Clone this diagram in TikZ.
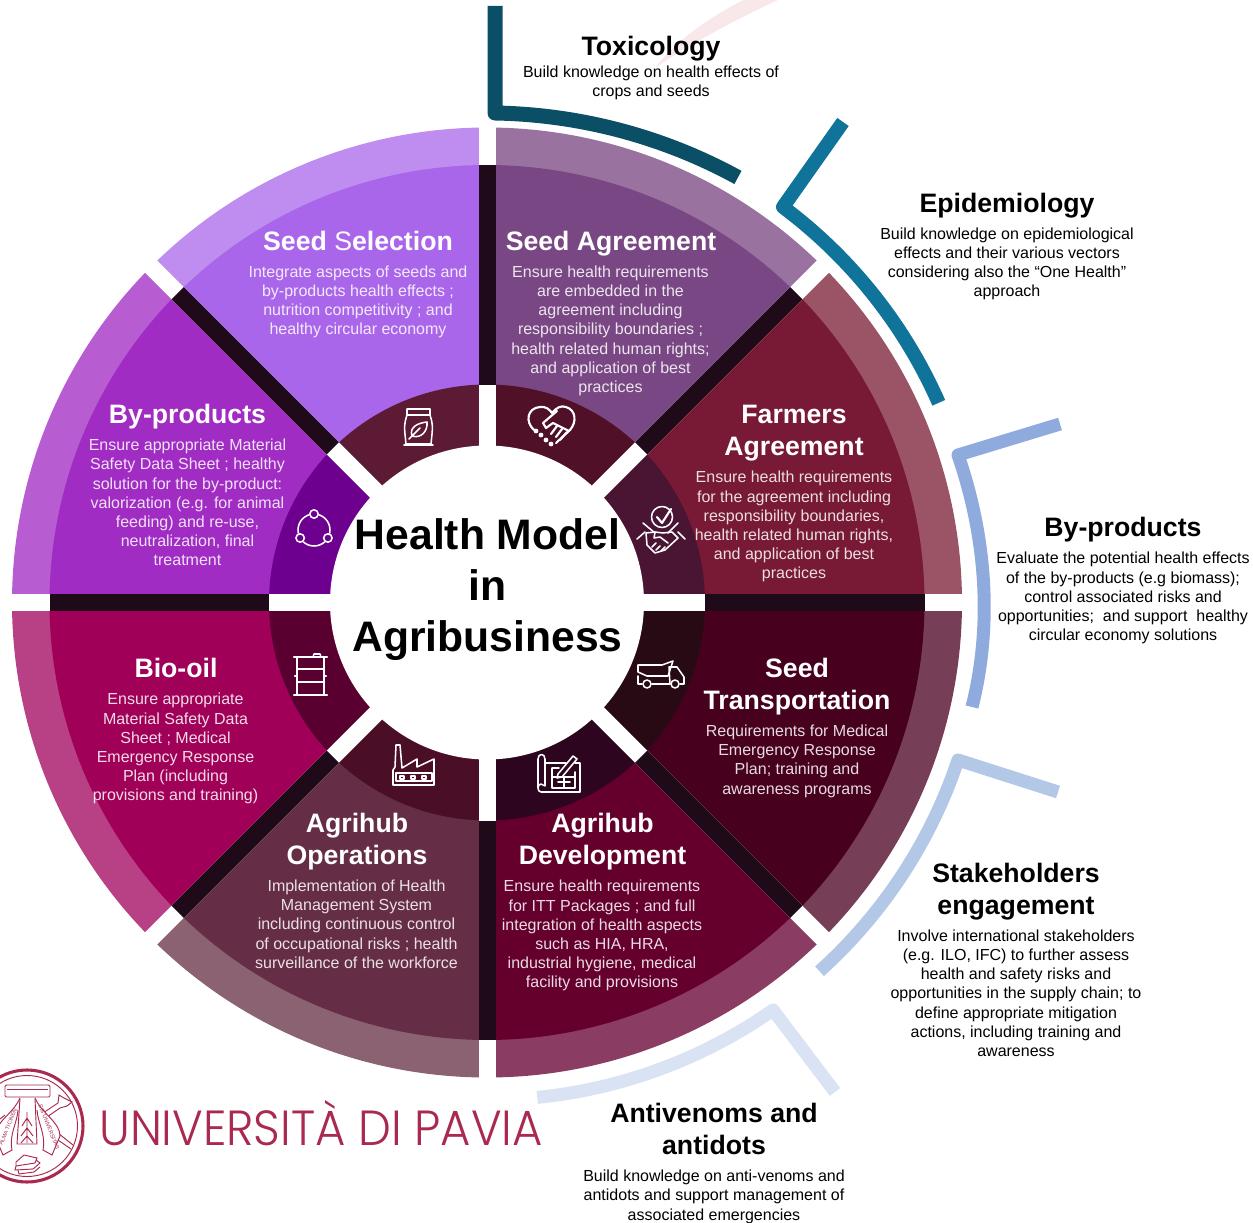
\documentclass[tikz,border=0pt]{standalone}
\usepackage{fontspec}
\setmainfont{Liberation Sans}
\newfontfamily\logofont{Poppins}[UprightFont=* Light]
\definecolor{gapdark}{HTML}{1E0A18}
\definecolor{crim}{HTML}{A9294F}
\newcommand\sect[4]{\fill[#4] (487,602.5) -- ++(#1:#3) arc[start angle=#1,end angle=#2,radius=#3] -- cycle;}
\newcommand\blk[1]{\strut #1\strut}
\tikzset{
  head/.style={inner sep=0pt,align=center,font=\fontsize{20}{24}\selectfont\bfseries,shift={(0,-3)}},
  desc/.style={inner sep=0pt,align=center,font=\fontsize{12}{14.4}\selectfont,shift={(0,-2)}},
  inhead/.style={head,text=white},
  indesc/.style={desc,text=white,text opacity=.86},
  icon/.style={draw=white,line width=1.6pt,line cap=round,line join=round},
  iconthin/.style={draw=white,line width=1.15pt,line cap=round,line join=round},
  seal/.style={draw=crim,line width=.7pt},
  armband/.style={line width=#1,line join=round,line cap=butt}
}
\begin{document}
\begin{tikzpicture}[x=0.75pt,y=0.75pt,yscale=-1]
\useasboundingbox (0,0) rectangle (1253,1223);
% faint arc
\fill[color={rgb,255:red,248;green,232;blue,234}] (655,68) .. controls (675,42) and (705,20) .. (743,0) -- (778,0) .. controls (735,20) and (690,44) .. cycle;
% outer ring
\sect{-90}{-45}{475}{color={rgb,255:red,154;green,114;blue,160}}
\sect{-45}{0}{475}{color={rgb,255:red,155;green,83;blue,102}}
\sect{0}{45}{475}{color={rgb,255:red,119;green,63;blue,87}}
\sect{45}{90}{475}{color={rgb,255:red,139;green,60;blue,98}}
\sect{90}{135}{475}{color={rgb,255:red,139;green,98;blue,114}}
\sect{135}{180}{475}{color={rgb,255:red,184;green,64;blue,133}}
\sect{180}{225}{475}{color={rgb,255:red,184;green,92;blue,210}}
\sect{225}{270}{475}{color={rgb,255:red,191;green,141;blue,240}}
% body ring
\sect{-90}{-45}{437.5}{color={rgb,255:red,121;green,72;blue,132}}
\sect{-45}{0}{437.5}{color={rgb,255:red,120;green,26;blue,53}}
\sect{0}{45}{437.5}{color={rgb,255:red,72;green,0;blue,31}}
\sect{45}{90}{437.5}{color={rgb,255:red,101;green,0;blue,44}}
\sect{90}{135}{437.5}{color={rgb,255:red,102;green,46;blue,70}}
\sect{135}{180}{437.5}{color={rgb,255:red,161;green,0;blue,88}}
\sect{180}{225}{437.5}{color={rgb,255:red,160;green,44;blue,196}}
\sect{225}{270}{437.5}{color={rgb,255:red,170;green,102;blue,234}}
% icon ring
\sect{-90}{-45}{218}{color={rgb,255:red,79;green,16;blue,40}}
\sect{-45}{0}{218}{color={rgb,255:red,74;green,20;blue,51}}
\sect{0}{45}{218}{color={rgb,255:red,40;green,10;blue,20}}
\sect{45}{90}{218}{color={rgb,255:red,46;green,5;blue,31}}
\sect{90}{135}{218}{color={rgb,255:red,74;green,14;blue,39}}
\sect{135}{180}{218}{color={rgb,255:red,90;green,0;blue,49}}
\sect{180}{225}{218}{color={rgb,255:red,110;green,0;blue,144}}
\sect{225}{270}{218}{color={rgb,255:red,93;green,26;blue,53}}
% gaps
\foreach \a in {0,45,...,315}{
  \draw[white,line width=12.75pt] (487,602.5) -- ++(\a:480);
  \draw[gapdark,line width=12.75pt] (487,602.5) ++(\a:218) -- ++(\a:219.5);
}
\fill[white] (487,602.5) circle[radius=157];
% outer arcs
\draw[color={rgb,255:red,11;green,79;blue,102},armband=11.25pt] (495,6) -- (495,113) arc[start angle=-89,end angle=-61.3,radius=525];
\draw[color={rgb,255:red,15;green,115;blue,154},armband=10.5pt] (843,122) -- (783,207) arc[start angle=-53.2,end angle=-23.8,radius=493];
\draw[color={rgb,255:red,143;green,171;blue,221},armband=9.75pt] (1060,424) -- (958,455) .. controls (986,536) and (993,624) .. (972,707);
\draw[color={rgb,255:red,179;green,199;blue,231},armband=9.75pt] (1058,792) -- (958,760) arc[start angle=18.5,end angle=48,radius=496];
\draw[color={rgb,255:red,218;green,227;blue,243},armband=9.75pt] (835,1092) -- (773,1010) arc[start angle=55,end angle=84.3,radius=497];
% centre
\node[inner sep=0pt,align=center,font=\fontsize{32}{38.4}\selectfont\bfseries] (title) at (487.5,590) {\blk{Health Model\\in\\Agribusiness}};
% sector text
\node[inhead] (h1) at (358,241) {\blk{Seed \textmd{S}election}};
\node[indesc] (d1) at (358,300) {\blk{Integrate aspects of seeds and\\by-products health effects ;\\nutrition competitivity ; and\\healthy circular economy}};
\node[inhead] (h2) at (611,241) {\blk{Seed Agreement}};
\node[indesc] (d2) at (610.5,329) {\blk{Ensure health requirements\\are embedded in the\\agreement including\\responsibility boundaries ;\\health related human rights;\\and application of best\\practices}};
\node[inhead] (h3) at (794,430) {\blk{Farmers\\Agreement}};
\node[indesc] (d3) at (794,525) {\blk{Ensure health requirements\\for the agreement including\\responsibility boundaries,\\health related human rights,\\and application of best\\practices}};
\node[inhead] (h4) at (797,684) {\blk{Seed\\Transportation}};
\node[indesc] (d4) at (797,759.5) {\blk{Requirements for Medical\\Emergency Response\\Plan; training and\\awareness programs}};
\node[inhead] (h5) at (602.5,839) {\blk{Agrihub\\Development}};
\node[indesc] (d5) at (602,934) {\blk{Ensure health requirements\\for ITT Packages ; and full\\integration of health aspects\\such as HIA, HRA,\\industrial hygiene, medical\\facility and provisions}};
\node[inhead] (h6) at (357,839) {\blk{Agrihub\\Operations}};
\node[indesc] (d6) at (356.5,924) {\blk{Implementation of Health\\Management System\\including continuous control\\of occupational risks ; health\\surveillance of the workforce}};
\node[inhead] (h7) at (176,668) {\blk{Bio-oil}};
\node[indesc] (d7) at (175.5,747) {\blk{Ensure appropriate\\Material Safety Data\\Sheet ; Medical\\Emergency Response\\Plan (including\\provisions and training)}};
\node[inhead] (h8) at (187.5,414) {\blk{By-products}};
\node[indesc] (d8) at (187.5,502.5) {\blk{Ensure appropriate Material\\Safety Data Sheet ; healthy\\solution for the by-product:\\valorization (e.g. for animal\\feeding) and re-use,\\neutralization, final\\treatment}};
% outer text
\node[head] (oh1) at (651,46) {\blk{Toxicology}};
\node[desc] (od1) at (651,81) {\blk{Build knowledge on health effects of\\crops and seeds}};
\node[head] (oh2) at (1007,203) {\blk{Epidemiology}};
\node[desc] (od2) at (1007,262) {\blk{Build knowledge on epidemiological\\effects and their various vectors\\considering also the “One Health”\\approach}};
\node[head] (oh3) at (1123,527) {\blk{By-products}};
\node[desc] (od3) at (1123,596.5) {\blk{Evaluate the potential health effects\\of the by-products (e.g biomass);\\control associated risks and\\opportunities;\ \ and support\ \ healthy\\circular economy solutions}};
\node[head] (oh4) at (1016,889) {\blk{Stakeholders\\engagement}};
\node[desc] (od4) at (1016,993) {\blk{Involve international stakeholders\\(e.g. ILO, IFC) to further assess\\health and safety risks and\\opportunities in the supply chain; to\\define appropriate mitigation\\actions, including training and\\awareness}};
\node[head] (oh5) at (714,1129) {\blk{Antivenoms and\\antidots}};
\node[desc] (od5) at (714,1195) {\blk{Build knowledge on anti-venoms and\\antidots and support management of\\associated emergencies}};
% icon: bag
\draw[iconthin] (407,409) -- (430,409) -- (430,415) .. controls (433,425) .. (431,444) -- (406,444) .. controls (404,425) .. (407,415) -- cycle;
\draw[iconthin] (407,415) -- (430,415) (404,445) -- (433,445);
\draw[iconthin] (412,436) .. controls (409,427) and (418,423) .. (427,422) .. controls (428,431) and (421,439) .. (412,436) (409,439) -- (420,428);
% icon: heart handshake
\draw[icon] (534,430) .. controls (525,422) and (527,408) .. (540,407) .. controls (546,406) and (550,410) .. (552,413) .. controls (556,408) and (561,405) .. (566,407) .. controls (576,410) and (577,422) .. (570,430) -- (556,443);
\draw[icon] (557,411) -- (543,423) -- (546,428) -- (553,423) -- (569,431);
\draw[icon] (557,426) -- (551,434) (562,429) -- (556,437) (567,432) -- (560,440);
\fill[white] (536,431) circle[radius=2.4] (541,435) circle[radius=2.4] (546,440) circle[radius=2.4] (551,444) circle[radius=2.4];
% icon: check handshake
\draw[iconthin] (662,517) circle[radius=10.5];
\draw[icon] (657,517) -- (662,523) -- (671,509);
\draw[iconthin] (643,523) -- (655,533) (678,523) -- (668,533) (637,539) -- (645,532) (685,539) -- (678,532);
\draw[iconthin] (646,533) -- (655,532) -- (663,533) -- (672,532) -- (678,538) -- (665,550) -- (655,553) -- (647,545) -- cycle;
\draw[iconthin] (655,532) -- (654,538) -- (660,537) -- (668,543) (652,547) -- (656,543) (656,550) -- (660,546) (661,551) -- (665,547);
% icon: truck
\draw[iconthin] (638,665) -- (662,665) -- (673,661) -- (668,676) -- (647,676) -- (638,672) -- cycle;
\draw[iconthin] (669,667) -- (677,667) -- (684,677) -- (684,684) -- (680,684) (670,684) -- (669,667) (638,676) -- (638,684) -- (642,684) (652,684) -- (670,684);
\draw[iconthin] (647,684) circle[radius=4] (675,684) circle[radius=4];
% icon: blueprint
\draw[iconthin] (545,792) -- (541,792) .. controls (537,792) and (537,784) .. (541,784) -- (545,786) -- (545,759) .. controls (545,753) and (538,753) .. (538,759) -- (538,788);
\draw[iconthin] (545,763) -- (566,763) (575,763) -- (580,763) -- (580,792) -- (545,792);
\draw[iconthin] (558,774) -- (573,756) -- (577,759) -- (562,777) -- (557,778) -- cycle;
\draw[iconthin] (552,768) -- (559,768) (552,768) -- (552,788) -- (575,788) -- (575,772) (552,777) -- (574,777) (564,777) -- (564,788) (558,782) -- (570,782);
% icon: factory
\draw[iconthin] (395,767) -- (396,745) -- (400,745) -- (402,768) -- (417,759) -- (417,767) -- (434,759) -- (434,785) -- (393,785) -- (393,770) -- (395,767);
\draw[iconthin] (396,773) rectangle (432,781);
\draw[iconthin] (400,776) rectangle (404,779) (411,776) rectangle (415,779) (422,776) rectangle (426,779);
% icon: barrel
\draw[icon] (294,657) -- (327,657) (294,695) -- (327,695) (297,657) -- (297,695) (324,657) -- (324,695) (297,669) -- (324,669) (297,682) -- (324,682) (295,676) -- (297,676) (324,676) -- (326,676);
\draw[iconthin] (313,657) -- (314,654) -- (320,654) -- (321,657);
% icon: network
\draw[iconthin] (314,530) circle[radius=16];
\foreach \a in {-90,150,30}{
  \fill[color={rgb,255:red,110;green,0;blue,144}] (314,530) ++(\a:16) circle[radius=5];
  \draw[iconthin] (314,530) ++(\a:16) circle[radius=4.2];
}
% logo
\draw[crim,line width=2.3pt] (27,1126) circle[radius=56];
\draw[seal] (27,1126) circle[radius=50.5];
\draw[seal] (58,1133) -- (73,1145) (55,1138) -- (71,1149) (0,1143) -- (9,1136);
\draw[seal] (40,1115) -- (58,1103) -- (59,1095) -- (64,1098) -- (72,1102) -- (67,1106) -- (60,1108) -- (44,1119);
\draw[seal] (5,1115) -- (0,1119);
\draw[seal,fill=white] (35,1098) .. controls (42,1114) and (60,1122) .. (60,1136) -- (52,1155) -- (43,1150) .. controls (46,1134) and (38,1124) .. (37,1110);
\draw[seal,fill=white] (20,1098) .. controls (13,1114) and (-5,1122) .. (-5,1136) -- (3,1155) -- (12,1150) .. controls (9,1134) and (17,1124) .. (18,1110);
\draw[seal,fill=white] (20,1098) -- (17,1144) -- (37,1144) -- (35,1098);
\draw[seal,fill=white,rounded corners=1pt] (5,1085) rectangle (50,1097);
\draw[seal] (7,1089) -- (48,1089);
\draw[seal] (27,1112) -- (27,1143) (27,1118) -- (22,1126) (27,1118) -- (32,1126) (27,1128) -- (21,1136) (27,1128) -- (33,1136) (21,1143) -- (27,1136) -- (33,1143);
\draw[seal] (16,1162) -- (24,1155) -- (37,1158) -- (35,1163) -- (16,1166) -- cycle (16,1166) -- (15,1170) -- (33,1169) -- (40,1163) -- (36,1160);
\draw[seal] (18,1170) -- (19,1174) -- (34,1172) -- (40,1167);
\node[text=crim,inner sep=0pt,rotate=-68,font=\fontsize{4.2}{5}\selectfont] (sealr) at (49,1127) {SIS UNIVERSITAS};
\node[text=crim,inner sep=0pt,rotate=68,font=\fontsize{4.2}{5}\selectfont] (seall) at (8,1127) {ALMA TICINEN};
\node[text=crim,inner sep=0pt,anchor=base west,font=\logofont\fontsize{37}{40}\selectfont] (logo) at (99,1145) {\scalebox{.943}[1]{UNIVERSITÀ DI PAVIA}};
\end{tikzpicture}
\end{document}
